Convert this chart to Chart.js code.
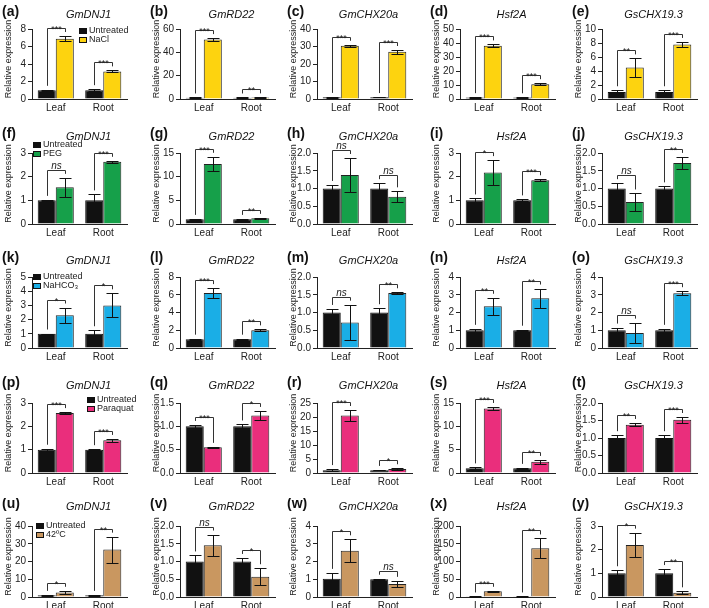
<!DOCTYPE html>
<html>
<head>
<meta charset="utf-8">
<script src="https://cdn.jsdelivr.net/npm/chart.js@4.4.1/dist/chart.umd.min.js"></script>
<style>
  html, body { margin: 0; padding: 0; background: #fff; }
  body { position: relative; width: 709px; height: 608px; overflow: hidden; }
  canvas { position: absolute; }
</style>
</head>
<body>
<script>
// ---- data ----
const categories = ["Leaf", "Root"];
const genes = ["GmDNJ1", "GmRD22", "GmCHX20a", "Hsf2A", "GsCHX19.3"];
const treatments = ["NaCl", "PEG", "NaHCO\u2083", "Paraquat", "42\u00baC"];
const panelLetters = "abcdefghijklmnopqrstuvwxy".split("");

// NaCl
const naclUntreated = [[1, 1], [1, 1], [1, 1], [1, 1], [1, 1]];
const naclUntreatedErr = [[0.05, 0.12], [0.3, 0.3], [0.2, 0.1], [0.3, 0.2], [0.25, 0.25]];
const naclTreated = [[6.9, 3.15], [51, 1.2], [30.5, 27], [38, 10.5], [4.5, 7.8]];
const naclTreatedErr = [[0.3, 0.12], [1.2, 0.2], [0.5, 1.0], [1.0, 0.8], [1.3, 0.35]];
const naclSig = [["***", "***"], ["***", "**"], ["***", "***"], ["***", "***"], ["**", "***"]];
const naclYMax = [8, 60, 40, 50, 10];
const naclYStep = [2, 20, 10, 10, 2];

// PEG
const pegUntreated = [[1, 1], [1, 1], [1, 1], [1, 1], [1, 1]];
const pegUntreatedErr = [[0.02, 0.25], [0.08, 0.08], [0.1, 0.15], [0.08, 0.04], [0.15, 0.06]];
const pegTreated = [[1.55, 2.63], [12.7, 1.2], [1.38, 0.77], [2.18, 1.85], [0.62, 1.72]];
const pegTreatedErr = [[0.4, 0.04], [1.5, 0.1], [0.48, 0.15], [0.52, 0.04], [0.24, 0.17]];
const pegSig = [["ns", "***"], ["***", "**"], ["ns", "ns"], ["*", "***"], ["ns", "**"]];
const pegYMax = [3, 15, 2, 3, 2];
const pegYStep = [1, 5, 0.5, 1, 0.5];

// NaHCO3
const bicUntreated = [[1, 1], [1, 1], [1, 1], [1, 1], [1, 1]];
const bicUntreatedErr = [[0.02, 0.25], [0.05, 0.05], [0.1, 0.12], [0.08, 0.03], [0.15, 0.08]];
const bicTreated = [[2.3, 3.0], [6.2, 2.0], [0.72, 1.55], [2.35, 2.8], [0.85, 3.08]];
const bicTreatedErr = [[0.55, 0.85], [0.55, 0.1], [0.5, 0.02], [0.48, 0.55], [0.58, 0.12]];
const bicSig = [["*", "*"], ["***", "**"], ["ns", "**"], ["**", "**"], ["ns", "***"]];
const bicYMax = [5, 8, 2, 4, 4];
const bicYStep = [1, 2, 0.5, 1, 1];

// Paraquat
const pqUntreated = [[1, 1], [1, 1], [1, 1], [1, 1], [1, 1]];
const pqUntreatedErr = [[0.04, 0.02], [0.03, 0.04], [0.4, 0.1], [0.2, 0.1], [0.08, 0.08]];
const pqTreated = [[2.57, 1.4], [0.55, 1.23], [20.5, 1.4], [13.8, 2.4], [1.38, 1.52]];
const pqTreatedErr = [[0.04, 0.06], [0.01, 0.1], [2.0, 0.3], [0.35, 0.4], [0.05, 0.08]];
const pqSig = [["***", "***"], ["***", "*"], ["***", "*"], ["***", "**"], ["**", "***"]];
const pqYMax = [3, 1.5, 25, 15, 2];
const pqYStep = [1, 0.5, 5, 5, 0.5];

// 42ºC
const heatUntreated = [[1, 1], [1, 1], [1.03, 1], [1, 1], [1, 1]];
const heatUntreatedErr = [[0.2, 0.2], [0.17, 0.1], [0.33, 0.03], [0.5, 0.5], [0.13, 0.18]];
const heatTreated = [[2.5, 26.7], [1.46, 0.57], [2.6, 0.73], [16, 137], [2.2, 0.18]];
const heatTreatedErr = [[1.0, 7.3], [0.3, 0.24], [0.65, 0.18], [1.5, 28], [0.52, 0.06]];
const heatSig = [["*", "**"], ["ns", "*"], ["*", "ns"], ["***", "**"], ["*", "**"]];
const heatYMax = [40, 2, 4, 200, 3];
const heatYStep = [10, 0.5, 1, 50, 1];

const rows = [
  { u: naclUntreated, ue: naclUntreatedErr, t: naclTreated, te: naclTreatedErr, sig: naclSig, max: naclYMax, step: naclYStep },
  { u: pegUntreated, ue: pegUntreatedErr, t: pegTreated, te: pegTreatedErr, sig: pegSig, max: pegYMax, step: pegYStep },
  { u: bicUntreated, ue: bicUntreatedErr, t: bicTreated, te: bicTreatedErr, sig: bicSig, max: bicYMax, step: bicYStep },
  { u: pqUntreated, ue: pqUntreatedErr, t: pqTreated, te: pqTreatedErr, sig: pqSig, max: pqYMax, step: pqYStep },
  { u: heatUntreated, ue: heatUntreatedErr, t: heatTreated, te: heatTreatedErr, sig: heatSig, max: heatYMax, step: heatYStep },
];

// ---- layout / style ----
const treatColors = ["#FDD30F", "#16A04A", "#1AAEE6", "#EA2E7C", "#C99760"];
const colLeft = [0, 148, 285, 428, 570];
const colTitleShift = [9, 4, 4, 4, 4];
const rowPlotTop = [29, 153, 277, 403, 526];
const rowPlotH = [70, 71, 71, 70, 71];
const rowTitleY = [15, 137, 261, 386, 507];
const legendAt = [{ x: 47, y: 2 }, { x: 1, y: -8 }, { x: 1, y: 0 }, { x: 55, y: -3 }, { x: 4, y: 0 }];
const PAD_TOP = 28, PAD_BOTTOM = 6, AXIS_W = 32, PLOT_W = 95, CANVAS_W = 137, XAXIS_H = 16;
const FONT = '"Liberation Sans", Arial, sans-serif';
const INK = "#222";

Chart.defaults.font.family = FONT;
Chart.defaults.color = INK;

const extras = {
  id: "extras",
  afterDatasetsDraw(chart, args, o) {
    const ctx = chart.ctx;
    const ys = chart.scales.y;
    const area = chart.chartArea;
    const m0 = chart.getDatasetMeta(0), m1 = chart.getDatasetMeta(1);
    const ds = chart.data.datasets;
    ctx.save();

    // error bars
    ctx.strokeStyle = "#111";
    ctx.lineWidth = 1;
    [m0, m1].forEach((meta, d) => {
      meta.data.forEach((bar, i) => {
        const v = ds[d].data[i], e = ds[d].errors[i];
        const x = Math.round(bar.x) + 0.5;
        const yTop = Math.round(ys.getPixelForValue(v + e)) + 0.5;
        const yBot = Math.round(ys.getPixelForValue(Math.max(0, v - e))) + 0.5;
        ctx.beginPath();
        ctx.moveTo(x, yTop); ctx.lineTo(x, yBot);
        ctx.moveTo(x - 6, yTop); ctx.lineTo(x + 6, yTop);
        ctx.moveTo(x - 6, yBot); ctx.lineTo(x + 6, yBot);
        ctx.stroke();
      });
    });

    // significance brackets
    ctx.strokeStyle = "#333";
    ctx.fillStyle = INK;
    ctx.textAlign = "center";
    o.sig.forEach((label, i) => {
      const b0 = m0.data[i], b1 = m1.data[i];
      const top0 = ys.getPixelForValue(ds[0].data[i] + ds[0].errors[i]);
      const top1 = ys.getPixelForValue(ds[1].data[i] + ds[1].errors[i]);
      const by = Math.round(Math.min(top0, top1) - 8) + 0.5;
      const x0 = Math.round(b0.x) + 0.5, x1 = Math.round(b1.x) + 0.5;
      const end0 = Math.max(by + 3, top0 - 4), end1 = Math.max(by + 3, top1 - 4);
      ctx.beginPath();
      ctx.moveTo(x0, end0); ctx.lineTo(x0, by); ctx.lineTo(x1, by); ctx.lineTo(x1, end1);
      ctx.stroke();
      const cx = (x0 + x1) / 2;
      if (label === "ns") {
        ctx.font = "italic 10px " + FONT;
        ctx.fillText(label, cx, by - 2);
      } else {
        ctx.font = "9px " + FONT;
        ctx.fillText(label, cx, by + 3);
      }
    });

    // y axis title
    ctx.save();
    ctx.font = "9px " + FONT;
    ctx.fillStyle = INK;
    ctx.translate(9, (area.top + area.bottom) / 2 - 5);
    ctx.rotate(-Math.PI / 2);
    ctx.textBaseline = "middle";
    ctx.fillText("Relative expression", 0, 0);
    ctx.restore();

    // panel letter and gene title
    ctx.textBaseline = "middle";
    ctx.textAlign = "left";
    ctx.font = "bold 14px " + FONT;
    ctx.fillStyle = "#111";
    ctx.fillText("(" + o.letter + ")", 2, o.titleY - 3);
    ctx.textAlign = "center";
    ctx.font = "italic 11px " + FONT;
    ctx.fillText(o.gene, (area.left + area.right) / 2 + o.titleShift, o.titleY);

    // legend
    if (o.legend) {
      ctx.textAlign = "left";
      ctx.font = "9px " + FONT;
      ds.forEach((d, k) => {
        const lx = area.left + o.legend.x, ly = area.top + o.legend.y + k * 9;
        ctx.fillStyle = d.backgroundColor;
        ctx.fillRect(lx, ly - 3, 8, 6);
        ctx.strokeStyle = "#111";
        ctx.strokeRect(lx + 0.5, ly - 2.5, 7, 5);
        ctx.fillStyle = INK;
        ctx.fillText(d.label, lx + 10, ly);
      });
    }
    ctx.restore();
  },
};

rows.forEach((row, r) => {
  genes.forEach((gene, c) => {
    const canvas = document.createElement("canvas");
    canvas.width = CANVAS_W;
    canvas.height = PAD_TOP + rowPlotH[r] + XAXIS_H + PAD_BOTTOM;
    canvas.style.left = colLeft[c] + "px";
    canvas.style.top = (rowPlotTop[r] - PAD_TOP) + "px";
    document.body.appendChild(canvas);

    const step = row.step[c];
    new Chart(canvas.getContext("2d"), {
      type: "bar",
      data: {
        labels: categories,
        datasets: [
          { label: "Untreated", data: row.u[c], errors: row.ue[c], backgroundColor: "#111", borderColor: "#111", borderWidth: 1 },
          { label: treatments[r], data: row.t[c], errors: row.te[c], backgroundColor: treatColors[r], borderColor: "#222", borderWidth: 1 },
        ],
      },
      options: {
        responsive: false,
        animation: false,
        events: [],
        layout: { padding: { top: PAD_TOP, left: 0, right: CANVAS_W - AXIS_W - PLOT_W, bottom: PAD_BOTTOM } },
        datasets: { bar: { categoryPercentage: 0.76, barPercentage: 1.0 } },
        scales: {
          x: {
            grid: { display: false, drawTicks: false },
            border: { color: INK, width: 1 },
            ticks: { font: { size: 10 }, color: INK, padding: 3 },
            afterFit: (s) => { s.height = XAXIS_H; },
          },
          y: {
            min: 0,
            max: row.max[c],
            grid: { drawOnChartArea: false, drawTicks: true, tickLength: 4, color: INK },
            border: { color: INK, width: 1 },
            ticks: {
              stepSize: step,
              autoSkip: false,
              font: { size: 10 },
              color: INK,
              padding: 2,
              callback: (v) => (step < 1 ? Number(v).toFixed(1) : v),
            },
            afterFit: (s) => { s.width = AXIS_W; },
          },
        },
        plugins: {
          legend: { display: false },
          tooltip: { enabled: false },
          extras: {
            sig: row.sig[c],
            letter: panelLetters[r * 5 + c],
            gene,
            titleShift: colTitleShift[c],
            titleY: rowTitleY[r] - (rowPlotTop[r] - PAD_TOP),
            legend: c === 0 ? legendAt[r] : null,
          },
        },
      },
      plugins: [extras],
    });
  });
});
</script>
</body>
</html>
